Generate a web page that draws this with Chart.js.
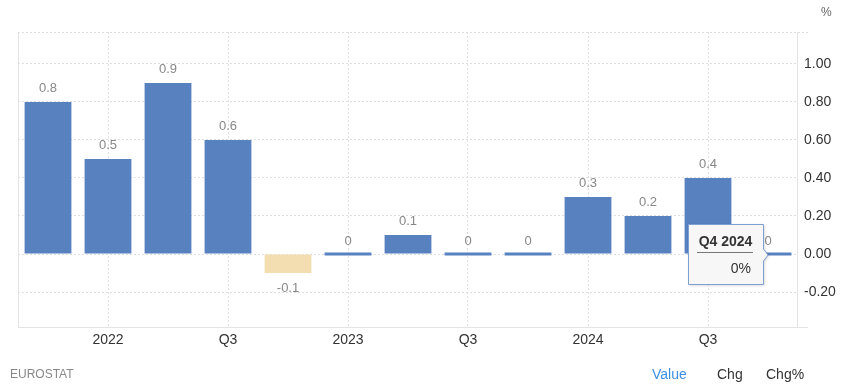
<!DOCTYPE html>
<html>
<head>
<meta charset="utf-8">
<script src="https://cdn.jsdelivr.net/npm/chart.js@4"></script>
<style>
  html, body { margin: 0; padding: 0; background: #fff; }
  #wrap { position: relative; width: 845px; height: 390px; font-family: "Liberation Sans", Arial, sans-serif; }
  #unit { position: absolute; left: 821px; top: 5px; font-size: 12px; color: #666; }
  #source { position: absolute; left: 10px; top: 367px; font-size: 12px; color: #888; }
  .tab { position: absolute; top: 366px; font-size: 14px; color: #333; }
</style>
</head>
<body>
<div id="wrap">
  <canvas id="chart" width="845" height="390"></canvas>
  <div id="unit">%</div>
  <div id="source">EUROSTAT</div>
  <div class="tab" style="left:652px;color:#3d8fe6">Value</div>
  <div class="tab" style="left:717px">Chg</div>
  <div class="tab" style="left:766px">Chg%</div>
</div>
<script>
const categories = ['Q4 2021', 'Q1 2022', 'Q2 2022', 'Q3 2022', 'Q4 2022', 'Q1 2023', 'Q2 2023',
  'Q3 2023', 'Q4 2023', 'Q1 2024', 'Q2 2024', 'Q3 2024', 'Q4 2024'];
const values = [0.8, 0.5, 0.9, 0.6, -0.1, 0, 0.1, 0, 0, 0.3, 0.2, 0.4, 0];
const tickLabels = ['', '2022', '', 'Q3', '', '2023', '', 'Q3', '', '2024', '', 'Q3', ''];
const yTicks = [-0.2, 0, 0.2, 0.4, 0.6, 0.8, 1.0];
const yMin = -0.384;
const yMax = 1.168;
const activeIndex = 12;

const fontFamily = '"Liberation Sans", Arial, sans-serif';

// value labels above / below each bar
const valueLabels = {
  id: 'valueLabels',
  afterDatasetsDraw(chart) {
    const c = chart.ctx;
    const meta = chart.getDatasetMeta(0);
    c.save();
    c.font = '13px ' + fontFamily;
    c.fillStyle = '#888';
    c.textAlign = 'center';
    c.textBaseline = 'middle';
    meta.data.forEach((bar, i) => {
      const v = values[i];
      const y = v < 0 ? bar.y + 15 : bar.y - 14;
      c.fillText(String(v), bar.x, y);
    });
    c.restore();
  }
};

// frame of the plot: side edges and the short extensions on the right
const frame = {
  id: 'frame',
  beforeDatasetsDraw(chart) {
    const { ctx: c, chartArea: a } = chart;
    c.save();
    c.strokeStyle = '#e4e4e4';
    c.lineWidth = 1;
    c.beginPath();
    c.moveTo(a.left + 0.5, a.top);
    c.lineTo(a.left + 0.5, a.bottom);
    c.moveTo(a.right - 0.5, a.top);
    c.lineTo(a.right - 0.5, a.bottom);
    c.moveTo(a.right, a.bottom + 0.5);
    c.lineTo(a.right + 10, a.bottom + 0.5);
    c.stroke();
    c.strokeStyle = '#dedede';
    c.setLineDash([2, 2]);
    c.beginPath();
    c.moveTo(a.right, a.top + 0.5);
    c.lineTo(a.right + 10, a.top + 0.5);
    c.stroke();
    c.restore();
  }
};

// hover tooltip on the last quarter
const hoverBox = {
  id: 'hoverBox',
  afterDraw(chart) {
    const c = chart.ctx;
    const bar = chart.getDatasetMeta(0).data[activeIndex];
    const tipX = bar.x;
    const tipY = chart.scales.y.getPixelForValue(values[activeIndex]) + 1;
    const w = 75, h = 60;
    const right = tipX - 5;
    const left = right - w;
    const top = tipY - 31;
    c.save();
    c.shadowColor = 'rgba(0,0,0,0.18)';
    c.shadowBlur = 3;
    c.shadowOffsetX = 1;
    c.shadowOffsetY = 1;
    c.fillStyle = '#f7f7f7';
    c.strokeStyle = '#7f9fd2';
    c.lineWidth = 1;
    c.beginPath();
    c.moveTo(left + 0.5, top + 0.5);
    c.lineTo(right + 0.5, top + 0.5);
    c.lineTo(right + 0.5, tipY - 6);
    c.lineTo(tipX, tipY);
    c.lineTo(right + 0.5, tipY + 6);
    c.lineTo(right + 0.5, top + h + 0.5);
    c.lineTo(left + 0.5, top + h + 0.5);
    c.closePath();
    c.fill();
    c.shadowColor = 'transparent';
    c.stroke();
    const cx = (left + right) / 2;
    c.fillStyle = '#333';
    c.font = 'bold 14px ' + fontFamily;
    c.textAlign = 'center';
    c.textBaseline = 'middle';
    c.fillText(categories[activeIndex], cx, top + 18);
    c.strokeStyle = '#777';
    c.beginPath();
    c.moveTo(left + 9, top + 28.5);
    c.lineTo(right - 10, top + 28.5);
    c.stroke();
    c.font = '14px ' + fontFamily;
    c.textAlign = 'right';
    c.fillText(values[activeIndex] + '%', right - 12, top + 45);
    c.restore();
  }
};

new Chart(document.getElementById('chart'), {
  type: 'bar',
  data: {
    labels: categories,
    datasets: [{
      data: values,
      backgroundColor: values.map(v => v < 0 ? '#f3deb1' : '#5881c0'),
      categoryPercentage: 1,
      barPercentage: 0.78,
      minBarLength: 3
    }]
  },
  options: {
    responsive: false,
    animation: false,
    events: [],
    layout: { padding: { left: 18, top: 32, right: 0, bottom: 33 } },
    plugins: { legend: { display: false }, tooltip: { enabled: false } },
    scales: {
      x: {
        offset: true,
        grid: {
          offset: false,
          drawTicks: false,
          color: ctx => (ctx.tick && tickLabels[ctx.index]) ? '#e0e0e0' : 'rgba(0,0,0,0)'
        },
        border: { display: true, color: '#e4e4e4', dash: [2, 2] },
        ticks: {
          autoSkip: false,
          maxRotation: 0,
          padding: 5,
          color: '#333',
          font: { family: fontFamily, size: 14 },
          callback: (v, i) => tickLabels[i]
        },
        afterFit: s => { s.height = 30; }
      },
      y: {
        position: 'right',
        min: yMin,
        max: yMax,
        afterBuildTicks: s => {
          s.ticks = [yMin].concat(yTicks, [yMax]).map(v => ({ value: v }));
        },
        grid: { drawTicks: false, color: '#dedede' },
        border: { display: false, dash: [2, 2] },
        ticks: {
          padding: 6,
          color: '#333',
          font: { family: fontFamily, size: 14 },
          callback: v => yTicks.includes(v) ? v.toFixed(2) : ''
        },
        afterFit: s => { s.width = 47; }
      }
    }
  },
  plugins: [frame, valueLabels, hoverBox]
});
</script>
</body>
</html>
